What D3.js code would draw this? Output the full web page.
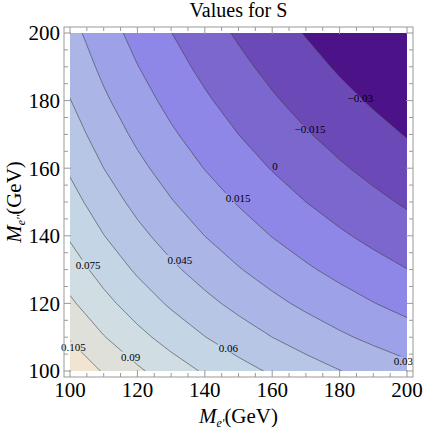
<!DOCTYPE html>
<html>
<head>
<meta charset="utf-8">
<script src="https://cdn.jsdelivr.net/npm/d3@7"></script>
<style>
body { margin: 0; background: #fff; }
svg text { font-family: "Liberation Serif", "DejaVu Serif", "Times New Roman", Times, serif; }
</style>
</head>
<body>
<div id="chart"></div>
<script>
// grid of masses (GeV), same on both axes
var masses = [100, 110, 120, 130, 140, 150, 160, 170, 180, 190, 200];

// S values, row = M_e'' (100 at first row), column = M_e'
var sValues = [
  [0.1168, 0.1037, 0.0924, 0.0823, 0.0734, 0.0653, 0.0581, 0.0514, 0.0454, 0.0398, 0.0347],
  [0.1037, 0.0907, 0.0793, 0.0693, 0.0603, 0.0523, 0.0450, 0.0384, 0.0323, 0.0268, 0.0216],
  [0.0924, 0.0793, 0.0679, 0.0579, 0.0489, 0.0409, 0.0336, 0.0270, 0.0210, 0.0154, 0.0102],
  [0.0823, 0.0693, 0.0579, 0.0478, 0.0389, 0.0309, 0.0236, 0.0170, 0.0109, 0.0053, 0.0002],
  [0.0734, 0.0603, 0.0489, 0.0389, 0.0299, 0.0219, 0.0146, 0.0080, 0.0020, -0.0036, -0.0088],
  [0.0653, 0.0523, 0.0409, 0.0309, 0.0219, 0.0139, 0.0066, 0.0000, -0.0061, -0.0116, -0.0168],
  [0.0581, 0.0450, 0.0336, 0.0236, 0.0146, 0.0066, -0.0007, -0.0073, -0.0133, -0.0189, -0.0241],
  [0.0514, 0.0384, 0.0270, 0.0170, 0.0080, 0.0000, -0.0073, -0.0139, -0.0200, -0.0255, -0.0307],
  [0.0454, 0.0323, 0.0210, 0.0109, 0.0020, -0.0061, -0.0133, -0.0200, -0.0260, -0.0316, -0.0367],
  [0.0398, 0.0268, 0.0154, 0.0053, -0.0036, -0.0116, -0.0189, -0.0255, -0.0316, -0.0372, -0.0423],
  [0.0347, 0.0216, 0.0102, 0.0002, -0.0088, -0.0168, -0.0241, -0.0307, -0.0367, -0.0423, -0.0475]
];

var levels = [-0.03, -0.015, 0, 0.015, 0.03, 0.045, 0.06, 0.075, 0.09, 0.105];
var bandColors = ["#4b1387", "#6b4ab8", "#7c67cf", "#8e87e8", "#9da2e8", "#abb6e7",
                  "#b8c6e6", "#c4d5e6", "#d0dde3", "#e0e0da", "#f1e4d0"];

// contour labels: text and where they sit (M_e', M_e'')
var labelTexts = ["0.105", "0.09", "0.075", "0.06", "0.045", "0.03", "0.015", "0", "\u22120.015", "\u22120.03"];
var labelX = [101.0, 118.0, 105.4, 147.0, 132.6, 198.9, 149.9, 160.8, 171.2, 186.1];
var labelY = [107.2, 104.2, 131.4, 106.9, 132.8, 102.8, 151.1, 160.7, 171.5, 180.7];

var majorTicks = [100, 120, 140, 160, 180, 200];
var minorTicks = d3.range(100, 201, 5);

var width = 441, height = 430;
var pad = 6;
var x = d3.scaleLinear().domain([100, 200]).range([70, 407]);
var y = d3.scaleLinear().domain([100, 200]).range([371, 33]);

var svg = d3.select("#chart").append("svg")
  .attr("width", width)
  .attr("height", height);

var defs = svg.append("defs");
defs.append("clipPath").attr("id", "plotclip")
  .append("rect")
  .attr("x", x(100)).attr("y", y(200))
  .attr("width", x(200) - x(100)).attr("height", y(100) - y(200));

// flatten grid for d3.contours
var n = masses.length;
var flat = [];
sValues.forEach(function(row) { row.forEach(function(v) { flat.push(v); }); });

var contours = d3.contours().size([n, n]).thresholds(levels)(flat);

// grid coordinate c -> mass; sample k sits at c = k + 0.5
var step = masses[1] - masses[0];
var proj = d3.geoTransform({
  point: function(px, py) {
    this.stream.point(x(masses[0] + (px - 0.5) * step), y(masses[0] + (py - 0.5) * step));
  }
});
var path = d3.geoPath(proj);

var plot = svg.append("g").attr("clip-path", "url(#plotclip)");

plot.append("rect")
  .attr("x", x(100)).attr("y", y(200))
  .attr("width", x(200) - x(100)).attr("height", y(100) - y(200))
  .attr("fill", bandColors[0]);

plot.selectAll("path.band")
  .data(contours)
  .enter().append("path")
  .attr("class", "band")
  .attr("d", path)
  .attr("fill", function(d, i) { return bandColors[i + 1]; })
  .attr("stroke", "none");

// labels first, so their boxes can cut the lines
var labels = svg.append("g")
  .attr("font-size", "11px")
  .attr("text-anchor", "middle");

labels.selectAll("text")
  .data(labelTexts)
  .enter().append("text")
  .attr("x", function(d, i) { return x(labelX[i]); })
  .attr("y", function(d, i) { return y(labelY[i]); })
  .attr("dy", "0.35em")
  .text(function(d) { return d; });

var mask = defs.append("mask").attr("id", "labelmask")
  .attr("maskUnits", "userSpaceOnUse")
  .attr("x", 0).attr("y", 0).attr("width", width).attr("height", height);
mask.append("rect").attr("width", width).attr("height", height).attr("fill", "#fff");
labels.selectAll("text").each(function() {
  var b = this.getBBox();
  mask.append("rect")
    .attr("x", b.x - 1).attr("y", b.y + 1)
    .attr("width", b.width + 2).attr("height", b.height - 2)
    .attr("fill", "#000");
});

var lines = plot.append("g").attr("mask", "url(#labelmask)");
lines.selectAll("path")
  .data(contours)
  .enter().append("path")
  .attr("d", path)
  .attr("fill", "none")
  .attr("stroke", "#3a3a3a")
  .attr("stroke-opacity", 0.7)
  .attr("stroke-width", 0.8);

labels.raise();

// frame with inward ticks
var fx0 = x(100) - pad, fx1 = x(200) + pad;
var fy0 = y(200) - pad, fy1 = y(100) + pad;
var frame = svg.append("g").attr("stroke", "#999").attr("stroke-width", 1);
frame.append("rect")
  .attr("x", fx0).attr("y", fy0)
  .attr("width", fx1 - fx0).attr("height", fy1 - fy0)
  .attr("fill", "none");

minorTicks.forEach(function(t) {
  var len = majorTicks.indexOf(t) >= 0 ? 7 : 4;
  frame.append("line").attr("x1", x(t)).attr("x2", x(t)).attr("y1", fy1).attr("y2", fy1 - len);
  frame.append("line").attr("x1", x(t)).attr("x2", x(t)).attr("y1", fy0).attr("y2", fy0 + len);
  frame.append("line").attr("y1", y(t)).attr("y2", y(t)).attr("x1", fx0).attr("x2", fx0 + len);
  frame.append("line").attr("y1", y(t)).attr("y2", y(t)).attr("x1", fx1).attr("x2", fx1 - len);
});

svg.append("g").attr("font-size", "21px").attr("text-anchor", "middle")
  .selectAll("text").data(majorTicks).enter().append("text")
  .attr("x", function(d) { return x(d); })
  .attr("y", 397)
  .text(function(d) { return d; });

svg.append("g").attr("font-size", "21px").attr("text-anchor", "end")
  .selectAll("text").data(majorTicks).enter().append("text")
  .attr("x", fx0 - 4)
  .attr("y", function(d) { return y(d); })
  .attr("dy", "0.35em")
  .text(function(d) { return d; });

// title and axis titles
svg.append("text")
  .attr("x", (x(100) + x(200)) / 2)
  .attr("y", 17)
  .attr("text-anchor", "middle")
  .attr("font-size", "20px")
  .text("Values for S");

var xt = svg.append("text")
  .attr("x", (x(100) + x(200)) / 2)
  .attr("y", 423)
  .attr("text-anchor", "middle")
  .attr("font-size", "21px");
xt.append("tspan").attr("font-style", "italic").text("M");
xt.append("tspan").attr("font-size", "12px").attr("font-style", "italic").attr("dy", 4).text("e'");
xt.append("tspan").attr("dy", -4).text("(GeV)");

var yt = svg.append("text")
  .attr("transform", "translate(21," + ((y(100) + y(200)) / 2) + ")rotate(-90)")
  .attr("text-anchor", "middle")
  .attr("font-size", "21px");
yt.append("tspan").attr("font-style", "italic").text("M");
yt.append("tspan").attr("font-size", "12px").attr("font-style", "italic").attr("dy", 4).text("e''");
yt.append("tspan").attr("dy", -4).text("(GeV)");
</script>
</body>
</html>
